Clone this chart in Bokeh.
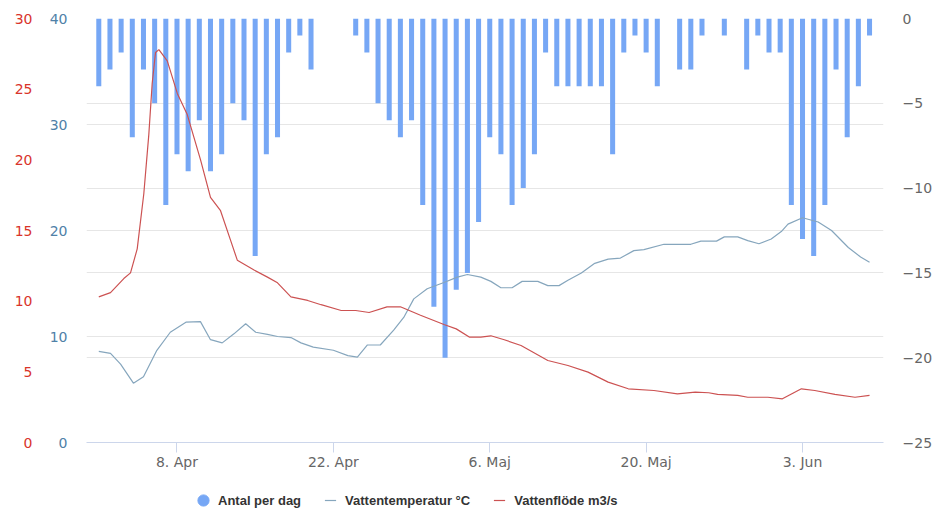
from datetime import datetime, timedelta
from bokeh.plotting import figure
from bokeh.layouts import column
from bokeh.models import (Range1d, LinearAxis, FixedTicker, Grid, Legend,
                          LegendItem)
from bokeh.embed import file_html
from bokeh.resources import INLINE

# ---------------- data ----------------
start = datetime(2019, 4, 1)

# daily counts (drawn downward on the right axis), 1 Apr .. 9 Jun
antal_per_dag = [-4, -3, -2, -7, -3, -5, -11, -8, -9, -6,
                 -9, -8, -5, -6, -14, -8, -7, -2, -1, -3,
                 0, 0, 0,
                 -1, -2, -5, -6, -7, -6, -11,
                 -17, -20, -16, -15, -12, -7, -8, -11, -10, -8,
                 -2, -4, -4, -4, -4, -4, -8,
                 -2, -1, -2, -4,
                 0,
                 -3, -3, -1,
                 0,
                 -1,
                 0,
                 -3, -1, -2,
                 -2, -11, -13, -14, -11, -3, -7, -4, -1]

# water temperature (deg C), day offset from 1 Apr
temp_day = [0.0, 1.05, 1.95, 3.1, 4.0, 5.2, 6.4, 7.8, 9.1, 10.0, 11.05, 12.1,
            13.15, 14.05, 15.1, 16.0, 17.2, 18.1, 19.2, 21.0, 22.3, 23.15,
            24.05, 25.2, 26.4, 27.3, 28.2, 29.4, 30.9, 32.1, 33.0, 34.2, 35.1,
            36.0, 37.0, 37.9, 39.3, 40.2, 41.2, 42.0, 43.2, 44.4, 45.6, 46.7,
            47.9, 48.8, 50.6, 53.0, 53.9, 55.3, 56.0, 57.2, 58.1, 59.1, 60.2,
            61.1, 61.7, 63.0, 64.4, 65.6, 67.1, 68.2, 69.0]
temp_val = [8.6, 8.4, 7.4, 5.6, 6.2, 8.7, 10.4, 11.35, 11.4, 9.7, 9.4, 10.25,
            11.2, 10.4, 10.2, 10.0, 9.9, 9.4, 9.0, 8.7, 8.2, 8.05,
            9.2, 9.2, 10.6, 11.8, 13.55, 14.5, 15.1, 15.6, 15.85, 15.6, 15.2,
            14.6, 14.6, 15.2, 15.2, 14.8, 14.8, 15.3, 16.0, 16.9, 17.3, 17.4,
            18.1, 18.2, 18.7, 18.7, 19.0, 19.0, 19.4, 19.4, 19.05, 18.75, 19.2,
            19.9, 20.6, 21.2, 20.8, 20.0, 18.4, 17.5, 17.0]

# water flow (m3/s), day offset from 1 Apr
flow_day = [0.0, 1.05, 2.24, 2.84, 3.44, 4.03, 4.48, 4.78, 5.08, 5.38, 6.13,
            7.03, 7.92, 9.11, 10.0, 10.9, 11.8, 12.4, 13.9, 15.1, 16.0, 17.2,
            18.7, 19.9, 21.7, 23.0, 24.2, 25.8, 27.0, 28.8, 30.9, 32.0, 33.2,
            34.2, 35.1, 36.3, 37.8, 40.2, 42.0, 43.8, 45.6, 47.4, 49.7, 51.8,
            53.4, 54.6, 55.4, 57.2, 58.1, 59.9, 61.2, 62.9, 64.1, 65.9, 67.7,
            69.0]
flow_val = [10.3, 10.6, 11.6, 12.0, 13.7, 17.6, 21.8, 25.4, 27.6, 27.8, 27.0,
            24.7, 23.2, 20.0, 17.35, 16.4, 14.3, 12.9, 12.2, 11.7, 11.3, 10.3,
            10.05, 9.75, 9.34, 9.34, 9.2, 9.6, 9.6, 9.0, 8.35, 8.04, 7.45,
            7.45, 7.55, 7.27, 6.86, 5.8, 5.45, 4.98, 4.27, 3.8, 3.68, 3.44,
            3.56, 3.52, 3.4, 3.33, 3.2, 3.2, 3.09, 3.8, 3.68, 3.4, 3.2,
            3.33]

tick_dates = [datetime(2019, 4, 8), datetime(2019, 4, 22), datetime(2019, 5, 6),
              datetime(2019, 5, 20), datetime(2019, 6, 3)]
tick_labels = ["8. Apr", "22. Apr", "6. Maj", "20. Maj", "3. Jun"]

right_ticks = [-25, -20, -15, -10, -5, 0]
temp_ticks = [0, 10, 20, 30, 40]
flow_ticks = [0, 5, 10, 15, 20, 25, 30]

series_labels = ["Antal per dag", "Vattentemperatur °C", "Vattenflöde m3/s"]

# ---------------- styles ----------------
BAR_C = "#76a7f5"
TEMP_C = "#86a6bd"
FLOW_C = "#cc5252"
TEMP_AX_C = "#4f81a8"
FLOW_AX_C = "#d9342b"
GRID_C = "#e6e6e6"
AXIS_LINE_C = "#ccd6eb"
LABEL_FONT = "DejaVu Sans"


def ms(d):
    return (d - datetime(1970, 1, 1)).total_seconds() * 1000.0


bar_dates = [start + timedelta(days=i) for i in range(len(antal_per_dag))]
temp_dates = [start + timedelta(days=d) for d in temp_day]
flow_dates = [start + timedelta(days=d) for d in flow_day]

p = figure(x_axis_type="datetime",
           x_range=Range1d(start - timedelta(days=1.1), start + timedelta(days=70.25)),
           y_range=Range1d(-25, 0),
           frame_width=797, frame_height=424,
           min_border_left=86, min_border_right=53, min_border_top=18,
           min_border_bottom=36,
           y_axis_location="right",
           output_backend="svg", toolbar_location=None)
p.outline_line_color = None
p.background_fill_color = "white"
p.border_fill_color = "white"

p.extra_y_ranges = {"temp": Range1d(0, 40), "flow": Range1d(0, 30)}

# grids
p.xgrid.visible = False
p.ygrid.ticker = FixedTicker(ticks=right_ticks)
p.ygrid.grid_line_color = GRID_C
temp_grid = Grid(dimension=1, ticker=FixedTicker(ticks=temp_ticks),
                 y_range_name="temp", grid_line_color=GRID_C)
p.add_layout(temp_grid)

# right axis
ra = p.yaxis[0]
ra.ticker = FixedTicker(ticks=right_ticks)
ra.axis_line_color = None
ra.major_tick_line_color = None
ra.major_tick_out = 0
ra.major_tick_in = 0
ra.minor_tick_line_color = None
ra.major_label_standoff = 19
ra.major_label_text_font = LABEL_FONT
ra.major_label_text_font_size = "14px"
ra.major_label_text_color = "#666666"

# left axes
temp_axis = LinearAxis(y_range_name="temp", ticker=FixedTicker(ticks=temp_ticks))
flow_axis = LinearAxis(y_range_name="flow", ticker=FixedTicker(ticks=flow_ticks))
for ax, col, so in ((temp_axis, TEMP_AX_C, 19), (flow_axis, FLOW_AX_C, 14)):
    ax.axis_line_color = None
    ax.major_tick_line_color = None
    ax.major_tick_out = 0
    ax.major_tick_in = 0
    ax.minor_tick_line_color = None
    ax.major_label_standoff = so
    ax.major_label_text_font = LABEL_FONT
    ax.major_label_text_font_size = "14px"
    ax.major_label_text_color = col
p.add_layout(temp_axis, "left")
p.add_layout(flow_axis, "left")

# x axis
xa = p.xaxis[0]
xa.ticker = FixedTicker(ticks=[ms(d) for d in tick_dates])
xa.major_label_overrides = {ms(d): lab for d, lab in zip(tick_dates, tick_labels)}
xa.axis_line_color = AXIS_LINE_C
xa.major_tick_line_color = AXIS_LINE_C
xa.major_tick_out = 10
xa.major_tick_in = 0
xa.minor_tick_line_color = None
xa.major_label_standoff = 1
xa.major_label_text_font = LABEL_FONT
xa.major_label_text_font_size = "14px"
xa.major_label_text_color = "#666666"

# bars
p.vbar(x=bar_dates, top=0, bottom=antal_per_dag, width=0.45 * 86400000,
       fill_color=BAR_C, line_color=None)

# lines
p.line(x=temp_dates, y=temp_val, y_range_name="temp", line_color=TEMP_C, line_width=1.2)
p.line(x=flow_dates, y=flow_val, y_range_name="flow", line_color=FLOW_C, line_width=1.2)

# ---------------- legend strip ----------------
lp = figure(width=936, height=34, x_range=Range1d(0, 1), y_range=Range1d(0, 1),
            x_axis_location=None, y_axis_location=None, min_border=0,
            output_backend="svg", toolbar_location=None)
lp.outline_line_color = None
lp.xgrid.visible = False
lp.ygrid.visible = False
lp.background_fill_color = "white"
lp.border_fill_color = "white"

# legend-only glyph renderers (their single point lies outside the visible range)
lg_bar = lp.scatter(x=[5], y=[5], marker="circle", fill_color=BAR_C, line_color=BAR_C)
lg_temp = lp.scatter(x=[5], y=[5], marker="dash", line_color=TEMP_C, line_width=1.2)
lg_flow = lp.scatter(x=[5], y=[5], marker="dash", line_color=FLOW_C, line_width=1.2)

legend = Legend(items=[LegendItem(label=lab, renderers=[r]) for lab, r in
                       zip(series_labels, [lg_bar, lg_temp, lg_flow])],
                location=(102, -2), orientation="horizontal",
                glyph_width=30, glyph_height=28, label_standoff=0, spacing=14,
                padding=0, margin=0, border_line_color=None,
                background_fill_alpha=0,
                label_text_font="Liberation Sans", label_text_font_style="bold",
                label_text_font_size="13px", label_text_color="#333333")
lp.add_layout(legend)

layout = column(p, lp, spacing=0)
open("out.html", "w").write(file_html(layout, INLINE))
